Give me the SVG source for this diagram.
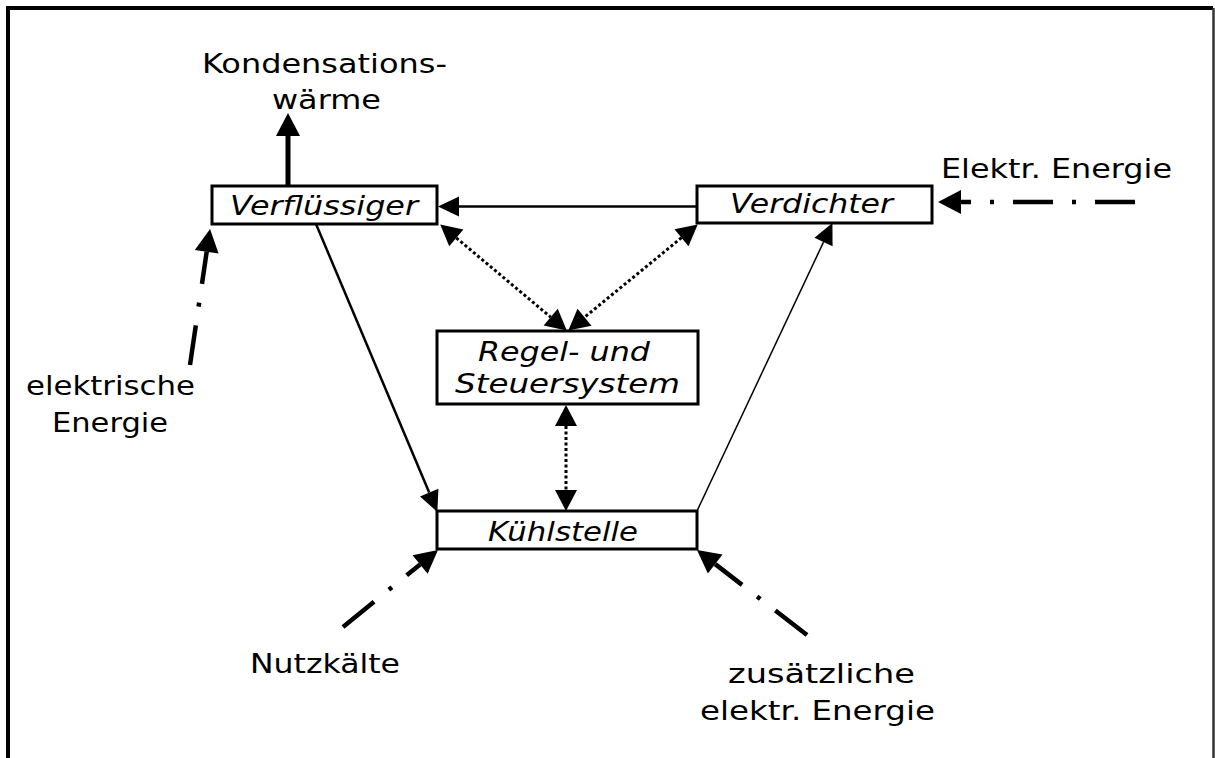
<svg xmlns="http://www.w3.org/2000/svg" width="1215" height="758" viewBox="0 0 1215 758">
<style>
.lbl{font-family:"DejaVu Sans","Liberation Sans",sans-serif;font-size:26px;fill:#000}
.box{fill:#fff;stroke:#000;stroke-width:3}
.nt{font-family:"DejaVu Sans","Liberation Sans",sans-serif;font-size:26px;font-style:italic;fill:#000}
.c{fill:none;stroke:#000}
.thick{stroke-width:5}
.solid{stroke-width:2.5}
.thin{stroke-width:1.5}
.dot{stroke-width:3;stroke-dasharray:3 2.5}
.dash{stroke-width:4.5;stroke-dasharray:40 19 4 19}
</style>
<defs>
<marker id="big" markerUnits="userSpaceOnUse" markerWidth="30" markerHeight="30" refX="0" refY="12" orient="auto" overflow="visible">
<path d="M0,0 L23,12 L0,24 Z" fill="#000"/>
</marker>
<marker id="mid" markerUnits="userSpaceOnUse" markerWidth="30" markerHeight="30" refX="0" refY="10" orient="auto" overflow="visible">
<path d="M0,0 L21,10 L0,20 Z" fill="#000"/>
</marker>
<marker id="midS" markerUnits="userSpaceOnUse" markerWidth="30" markerHeight="30" refX="0" refY="11" orient="auto-start-reverse" overflow="visible">
<path d="M0,0 L21,11 L0,22 Z" fill="#000"/>
</marker>
</defs>
<rect width="1215" height="758" fill="#fff"/>
<path d="M8,760 V8 H1213" fill="none" stroke="#000" stroke-width="4"/>
<path d="M1213.5,8 V760" fill="none" stroke="#333" stroke-width="2.5"/>

<g id="connectors">
<line class="c thick" x1="288" y1="186" x2="288" y2="136" marker-end="url(#big)"/>
<line class="c solid" x1="697" y1="206.5" x2="459" y2="206.5" marker-end="url(#mid)"/>
<line class="c dot" x1="456.3" y1="237.9" x2="550.7" y2="317.1" marker-start="url(#midS)" marker-end="url(#midS)"/>
<line class="c dot" x1="681.5" y1="237.7" x2="584.5" y2="317.3" marker-start="url(#midS)" marker-end="url(#midS)"/>
<line class="c dot" x1="566" y1="426" x2="566" y2="490" marker-start="url(#midS)" marker-end="url(#midS)"/>
<line class="c solid" x1="316" y1="224" x2="429.2" y2="492.6" marker-end="url(#mid)"/>
<line class="c thin" x1="697" y1="511" x2="823.5" y2="242.1" marker-end="url(#mid)"/>
<line class="c dash" x1="1135" y1="202" x2="961" y2="202" marker-end="url(#big)"/>
<line class="c dash" x1="190" y1="365" x2="206.7" y2="251.7" marker-end="url(#big)"/>
<line class="c dash" x1="343" y1="627" x2="420.1" y2="564.5" marker-end="url(#big)"/>
<line class="c dash" x1="807" y1="635" x2="715.2" y2="564.1" marker-end="url(#big)"/>
</g>

<g id="verfluessiger">
<rect class="box" x="212" y="186" width="225" height="38"/>
<text class="nt" x="230" y="215" textLength="188" lengthAdjust="spacingAndGlyphs">Verflüssiger</text>
</g>
<g id="verdichter">
<rect class="box" x="697" y="186" width="235" height="37"/>
<text class="nt" x="730" y="213" textLength="163" lengthAdjust="spacingAndGlyphs">Verdichter</text>
</g>
<g id="regel">
<rect class="box" x="437" y="331" width="261" height="73"/>
<text class="nt" x="478" y="361" textLength="172" lengthAdjust="spacingAndGlyphs">Regel- und</text>
<text class="nt" x="455" y="393" textLength="225" lengthAdjust="spacingAndGlyphs">Steuersystem</text>
</g>
<g id="kuehlstelle">
<rect class="box" x="437" y="511" width="260" height="38"/>
<text class="nt" x="488" y="541" textLength="150" lengthAdjust="spacingAndGlyphs">Kühlstelle</text>
</g>

<g id="labels">
<text class="lbl" x="202" y="73" textLength="245" lengthAdjust="spacingAndGlyphs">Kondensations-</text>
<text class="lbl" x="272" y="109" textLength="109" lengthAdjust="spacingAndGlyphs">wärme</text>
<text class="lbl" x="941" y="178" textLength="231" lengthAdjust="spacingAndGlyphs">Elektr. Energie</text>
<text class="lbl" x="26" y="395" textLength="169" lengthAdjust="spacingAndGlyphs">elektrische</text>
<text class="lbl" x="52" y="432" textLength="116" lengthAdjust="spacingAndGlyphs">Energie</text>
<text class="lbl" x="250" y="673" textLength="150" lengthAdjust="spacingAndGlyphs">Nutzkälte</text>
<text class="lbl" x="728" y="683" textLength="187" lengthAdjust="spacingAndGlyphs">zusätzliche</text>
<text class="lbl" x="700" y="720" textLength="235" lengthAdjust="spacingAndGlyphs">elektr. Energie</text>
</g>
</svg>
